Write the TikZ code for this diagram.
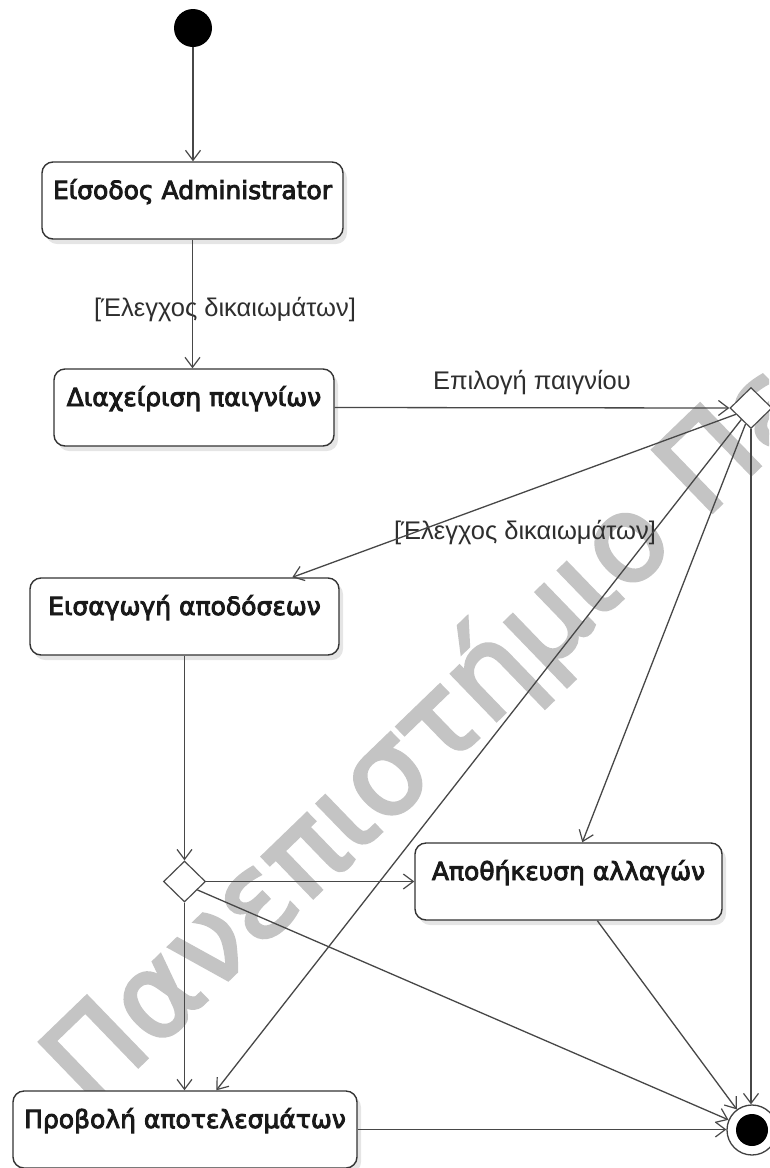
\documentclass[tikz,border=0pt]{standalone}
\usepackage{fontspec}
\setmainfont{Liberation Sans}
\newfontfamily\statefont[FakeBold=3.5]{DejaVu Sans}
\newfontfamily\markfont[FakeBold=3]{DejaVu Sans}
\usetikzlibrary{arrows.meta,shapes.geometric,shadows,calc}

\begin{document}
\begin{tikzpicture}[x=1pt,y=-1pt,
  state/.style={draw=black!80, line width=1.4pt, rounded corners=11pt, fill=white,
    inner sep=0pt, text height=37pt, text depth=40pt, minimum height=77pt,
    font=\statefont\fontsize{25}{29}\selectfont, text=black!90,
    drop shadow={shadow xshift=4pt,shadow yshift=-5pt,fill=black,opacity=0.10}},
  flow/.style={draw=black!72, line width=1.3pt,
    -{Straight Barb[length=10pt,width=15pt,line width=1.2pt]}},
  guard/.style={font=\fontsize{25.5}{29}\selectfont, text=black!82, inner sep=0pt},
  choice/.style={diamond, draw=black!70, line width=1.2pt, fill=white,
    inner sep=0pt, minimum width=42pt, minimum height=41pt},
]
\useasboundingbox[fill=white] (0,0) rectangle (769,1168);

% watermark, behind the diagram
\begin{scope}
\clip (0,0) rectangle (769,1168);
\node[rotate=44, anchor=base west, text=black!23,
  font=\markfont\fontsize{118}{118}\selectfont, inner sep=0pt] (mark) at (91,1112) {Πανεπιστήμιο Πειραιώς};
\end{scope}

% initial and final states
\node[circle, fill=black, minimum size=38pt, inner sep=0pt] (start) at (193,28) {};
\node[circle, draw=black!75, line width=1.3pt, fill=white, minimum size=50pt, inner sep=0pt] (end) at (752,1130) {};
\node[circle, fill=black, minimum size=32pt, inner sep=0pt] (endin) at (end) {};

% activities
\node[state, minimum width=301pt] (b1) at (192.5,200.5) {Είσοδος Administrator};
\node[state, minimum width=280pt] (b2) at (194,407.5) {Διαχείριση παιγνίων};
\node[state, minimum width=309pt] (b3) at (184.5,616.5) {Εισαγωγή αποδόσεων};
\node[state, minimum width=307pt] (b4) at (568.5,881.5) {Αποθήκευση αλλαγών};
\node[state, minimum width=344pt] (b5) at (185,1129.5) {Προβολή αποτελεσμάτων};

% decisions
\node[choice] (d1) at (751,408) {};
\node[choice] (d2) at (184.5,881.5) {};

% guards
\node[guard] (g1) at (225,310) {[Έλεγχος δικαιωμάτων]};
\node[guard] (g2) at (532,383) {Επιλογή παιγνίου};
\node[guard] (g3) at (525,533) {[Έλεγχος δικαιωμάτων]};

% transitions
\draw[flow] (start.south) -- (start.south |- b1.north);
\draw[flow] (b1.south) -- (b1.south |- b2.north);
\draw[flow] (b2.east) -- (d1.west);
\draw[flow] ($(d1.west)!0.3!(d1.south)$) -- ($(b3.north west)+(263,0)$);
\draw[flow] ($(d1.west)!0.55!(d1.south)$) -- ($(b5.north west)+(204,0)$);
\draw[flow] ($(d1.west)!0.75!(d1.south)$) -- ($(b4.north west)+(168,0)$);
\draw[flow] (d1.south) -- (d1.south |- end.north);
\draw[flow] (b3.south) -- (d2.north);
\draw[flow] (d2.east) -- (d2.east -| b4.west);
\draw[flow] (d2.south) -- (d2.south |- b5.north);
\draw[flow] ($(d2.east)!0.4!(d2.south)$) -- (end);
\draw[flow] ($(b4.south west)+(183,0)$) -- (end);
\draw[flow] (b5.east) -- (b5.east -| end.west);
\end{tikzpicture}
\end{document}
